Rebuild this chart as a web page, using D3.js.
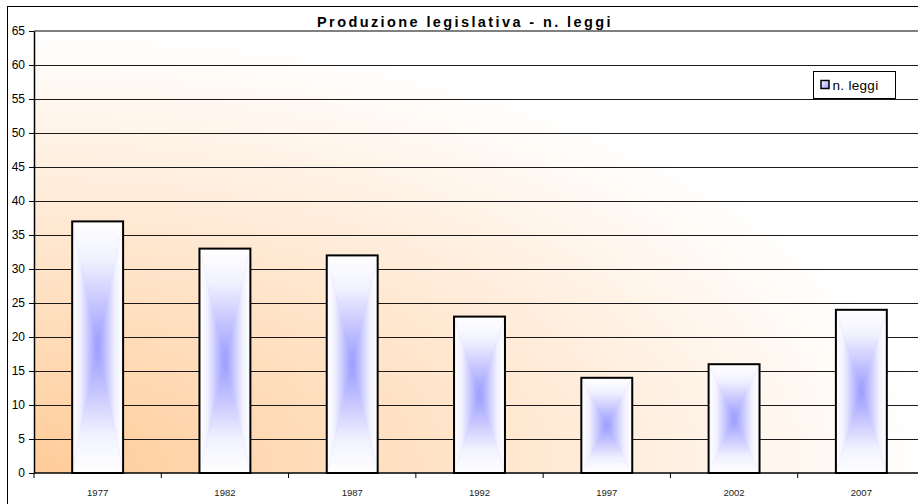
<!DOCTYPE html>
<html>
<head>
<meta charset="utf-8">
<script src="https://cdn.jsdelivr.net/npm/d3@7"></script>
<style>
  body { margin: 0; padding: 0; overflow: hidden; background: #fff; }
  text { font-family: Arial, "Liberation Sans", sans-serif; }
</style>
</head>
<body>
<script>
// data
const years = ["1977", "1982", "1987", "1992", "1997", "2002", "2007"];
const leggi = [37, 33, 32, 23, 14, 16, 24];
const yTicks = [0, 5, 10, 15, 20, 25, 30, 35, 40, 45, 50, 55, 60, 65];
const chartTitle = "Produzione legislativa - n. leggi";
const legendLabel = "n. leggi";

const W = 918, H = 504;
const plot = { left: 34, top: 31, right: 925, bottom: 473 };

const svg = d3.select("body").append("svg").attr("width", W).attr("height", H);
const defs = svg.append("defs");

// plot background: orange in the bottom-left corner fading out to white
const bg = defs.append("radialGradient").attr("id", "bg")
  .attr("cx", 0).attr("cy", 1).attr("fx", 0).attr("fy", 1).attr("r", 1);
bg.append("stop").attr("offset", 0).attr("stop-color", "#ffcc99");
bg.append("stop").attr("offset", 1).attr("stop-color", "#ffffff");

// bar fill = "from centre" gradient, built from 4 triangles
const barStops = [[0, "#ffffff"], [0.3, "#f2f2ff"], [1, "#9999ff"]];
[["gl", 0, 0, 1, 0], ["gr", 1, 0, 0, 0], ["gt", 0, 0, 0, 1], ["gb", 0, 1, 0, 0]].forEach(g => {
  const lg = defs.append("linearGradient").attr("id", g[0])
    .attr("x1", g[1]).attr("y1", g[2]).attr("x2", g[3]).attr("y2", g[4]);
  barStops.forEach(s => lg.append("stop").attr("offset", s[0]).attr("stop-color", s[1]));
});
const sw = defs.append("linearGradient").attr("id", "sw").attr("x1", 0).attr("y1", 0).attr("x2", 1).attr("y2", 1);
sw.append("stop").attr("offset", 0).attr("stop-color", "#ffffff");
sw.append("stop").attr("offset", 1).attr("stop-color", "#9999ff");

const x = d3.scaleBand().domain(years).range([plot.left, plot.right]).paddingInner(0.6).paddingOuter(0.3);
const xb = d3.scaleBand().domain(years).range([plot.left, plot.right]);
const y = d3.scaleLinear().domain([0, 65]).range([plot.bottom, plot.top]);

// chart frame
svg.append("rect").attr("x", 7.5).attr("y", 6.5).attr("width", 960).attr("height", 520)
  .attr("fill", "#fff").attr("stroke", "#000").attr("stroke-width", 1);

svg.append("rect").attr("x", plot.left).attr("y", plot.top)
  .attr("width", plot.right - plot.left).attr("height", plot.bottom - plot.top)
  .attr("fill", "url(#bg)");

// gridlines
svg.append("g").selectAll("line").data(yTicks.filter(d => d > 0 && d < 65)).join("line")
  .attr("x1", plot.left).attr("x2", plot.right)
  .attr("y1", d => Math.round(y(d)) + 0.5).attr("y2", d => Math.round(y(d)) + 0.5)
  .attr("stroke", "#1a1a1a").attr("stroke-width", 1);

svg.append("line").attr("x1", plot.left).attr("x2", plot.right)
  .attr("y1", plot.top).attr("y2", plot.top)
  .attr("stroke", "#808080").attr("stroke-width", 2);

// bars
const bars = svg.append("g").selectAll("g").data(years).join("g");
bars.each(function (d, i) {
  const g = d3.select(this);
  const x0 = x(d), x1 = x(d) + x.bandwidth();
  const y0 = y(leggi[i]), y1 = y(0);
  const cx = (x0 + x1) / 2, cy = (y0 + y1) / 2;
  g.append("rect").attr("x", x0).attr("y", y0).attr("width", x1 - x0).attr("height", y1 - y0).attr("fill", "#ccccff");
  const tri = [
    ["gl", [[x0, y0], [cx, cy], [x0, y1]]],
    ["gr", [[x1, y0], [cx, cy], [x1, y1]]],
    ["gt", [[x0, y0], [cx, cy], [x1, y0]]],
    ["gb", [[x0, y1], [cx, cy], [x1, y1]]]
  ];
  tri.forEach(t => g.append("path").attr("d", d3.line()(t[1]) + "Z").attr("fill", "url(#" + t[0] + ")"));
  g.append("rect").attr("x", x0).attr("y", y0).attr("width", x1 - x0).attr("height", y1 - y0)
    .attr("fill", "none").attr("stroke", "#000").attr("stroke-width", 2);
});

// y axis
const yAxis = svg.append("g").attr("transform", `translate(${plot.left},0)`)
  .call(d3.axisLeft(y).tickValues(yTicks).tickSize(5).tickPadding(4).tickSizeOuter(0));
yAxis.select(".domain").attr("stroke", "#000").attr("stroke-width", 1.5);
yAxis.selectAll(".tick line").attr("stroke", "#000");
yAxis.selectAll("text").attr("font-size", 12).attr("fill", "#000").attr("font-family", "Arial, 'Liberation Sans', sans-serif");

// x axis: ticks sit between categories
const xAxis = svg.append("g").attr("transform", `translate(0,${plot.bottom})`);
xAxis.append("line").attr("x1", plot.left).attr("x2", plot.right).attr("stroke", "#000").attr("stroke-width", 1.5);
xAxis.selectAll(".xt").data(years).join("line").attr("class", "xt")
  .attr("x1", d => xb(d)).attr("x2", d => xb(d)).attr("y1", 0).attr("y2", 5).attr("stroke", "#000");
xAxis.selectAll("text").data(years).join("text")
  .attr("x", d => xb(d) + xb.bandwidth() / 2).attr("y", 23)
  .attr("text-anchor", "middle").attr("font-size", 9.5).attr("fill", "#222").text(d => d);

// title
svg.append("text").attr("x", 465).attr("y", 27).attr("text-anchor", "middle")
  .attr("font-size", 14.5).attr("font-weight", "bold").attr("letter-spacing", 2.4)
  .text(chartTitle);

// legend
const lg = svg.append("g").attr("transform", "translate(813.5,71.5)");
lg.append("rect").attr("width", 82).attr("height", 27).attr("fill", "#fff").attr("stroke", "#000");
lg.append("rect").attr("x", 7.5).attr("y", 9).attr("width", 8).attr("height", 8)
  .attr("fill", "url(#sw)").attr("stroke", "#000").attr("stroke-width", 1.5);
lg.append("text").attr("x", 19).attr("y", 18.5).attr("font-size", 13.5).attr("letter-spacing", 0.3).text(legendLabel);
</script>
</body>
</html>
